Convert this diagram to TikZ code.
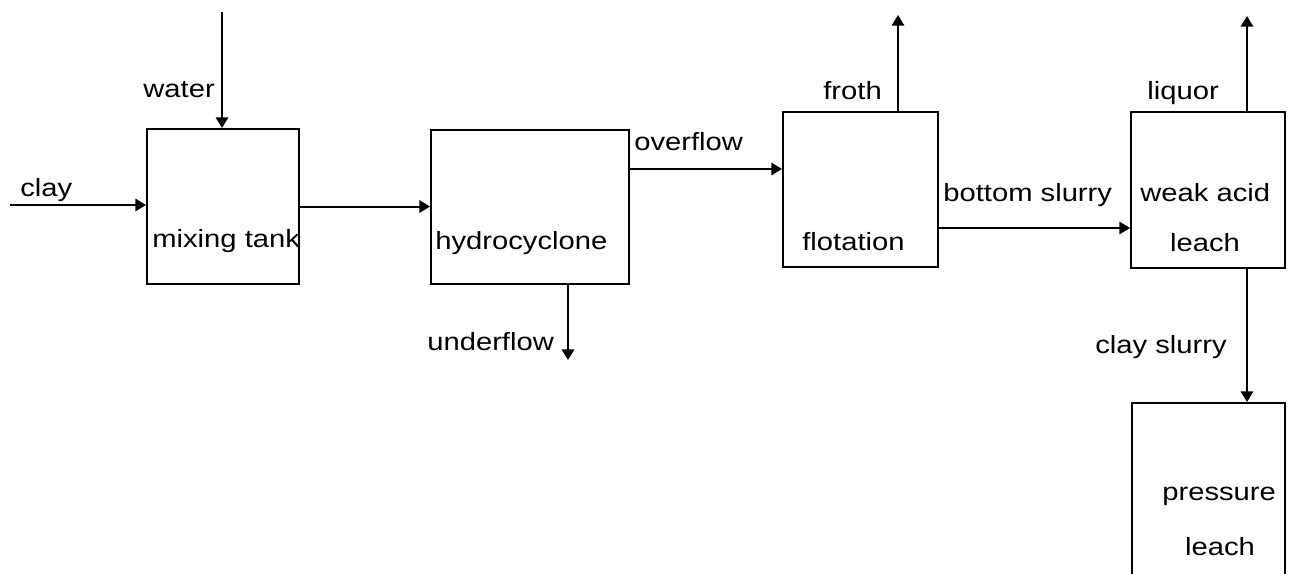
\documentclass[tikz,border=0pt]{standalone}
\usepackage{fontspec}
\setmainfont{Liberation Sans}[FakeStretch=1.17]
\usetikzlibrary{arrows.meta}
\tikzset{
  unitbox/.style={draw, line width=1.2pt, inner sep=0pt, anchor=north west},
  flow/.style={line width=1.1pt, -{Triangle[length=6pt,width=7pt]}},
  lbl/.style={inner sep=0pt, anchor=base west, font=\fontsize{14.2}{17}\selectfont},
  lblc/.style={inner sep=0pt, anchor=base, font=\fontsize{14.2}{17}\selectfont}
}
\begin{document}
\begin{tikzpicture}[x=0.02cm,y=-0.02cm]
\clip (0,0) rectangle (1291,574);
\fill[white] (0,0) rectangle (1291,574);
% boxes
\node[unitbox, minimum width=3.04cm, minimum height=3.10cm] (mix) at (146,128) {};
\node[unitbox, minimum width=3.96cm, minimum height=3.08cm] (hydro) at (430,129) {};
\node[unitbox, minimum width=3.10cm, minimum height=3.10cm] (flot) at (782,111) {};
\node[unitbox, minimum width=3.08cm, minimum height=3.12cm] (weak) at (1130,111) {};
\node[unitbox, minimum width=3.06cm, minimum height=4.2cm] (press) at (1131,402) {};
% box labels
\node[lbl] (tmix) at (152,248) {mixing tank};
\node[lbl] (thydro) at (435,250) {hydrocyclone};
\node[lbl] (tflot) at (802,251) {flotation};
\node[lbl] (tweak) at (1140,202) {weak acid};
\node[lblc] (tweak2) at (1205,252) {leach};
\node[lbl] (tpress) at (1162,500) {pressure};
\node[lblc] (tpress2) at (1220,555) {leach};
% free ends
\coordinate (clayin) at (10,205);
\coordinate (waterin) at (222,12);
\coordinate (ov) at (700,169);
\coordinate (uf) at (568,360);
\coordinate (fr) at (898,15);
\coordinate (bs) at (1000,228);
\coordinate (lq) at (1247,16);
% connectors
\draw[flow] (clayin) -- (clayin -| mix.west);
\draw[flow] (waterin) -- (waterin |- mix.north);
\draw[flow] (mix.east) -- (mix.east -| hydro.west);
\draw[flow] (ov -| hydro.east) -- (ov -| flot.west);
\draw[flow] (uf |- hydro.south) -- (uf);
\draw[flow] (fr |- flot.north) -- (fr);
\draw[flow] (bs -| flot.east) -- (bs -| weak.west);
\draw[flow] (lq |- weak.north) -- (lq);
\draw[flow] (lq |- weak.south) -- (lq |- press.north);
% stream labels
\node[lbl] (tclay) at (20,197) {clay};
\node[lbl] (twater) at (143,98) {water};
\node[lbl] (tover) at (634,151) {overflow};
\node[lbl] (tunder) at (427,350) {underflow};
\node[lbl] (tfroth) at (823,100) {froth};
\node[lbl] (tbs) at (943,202) {bottom slurry};
\node[lbl] (tliq) at (1147,100) {liquor};
\node[lbl] (tcs) at (1095,353) {clay slurry};
\end{tikzpicture}
\end{document}
